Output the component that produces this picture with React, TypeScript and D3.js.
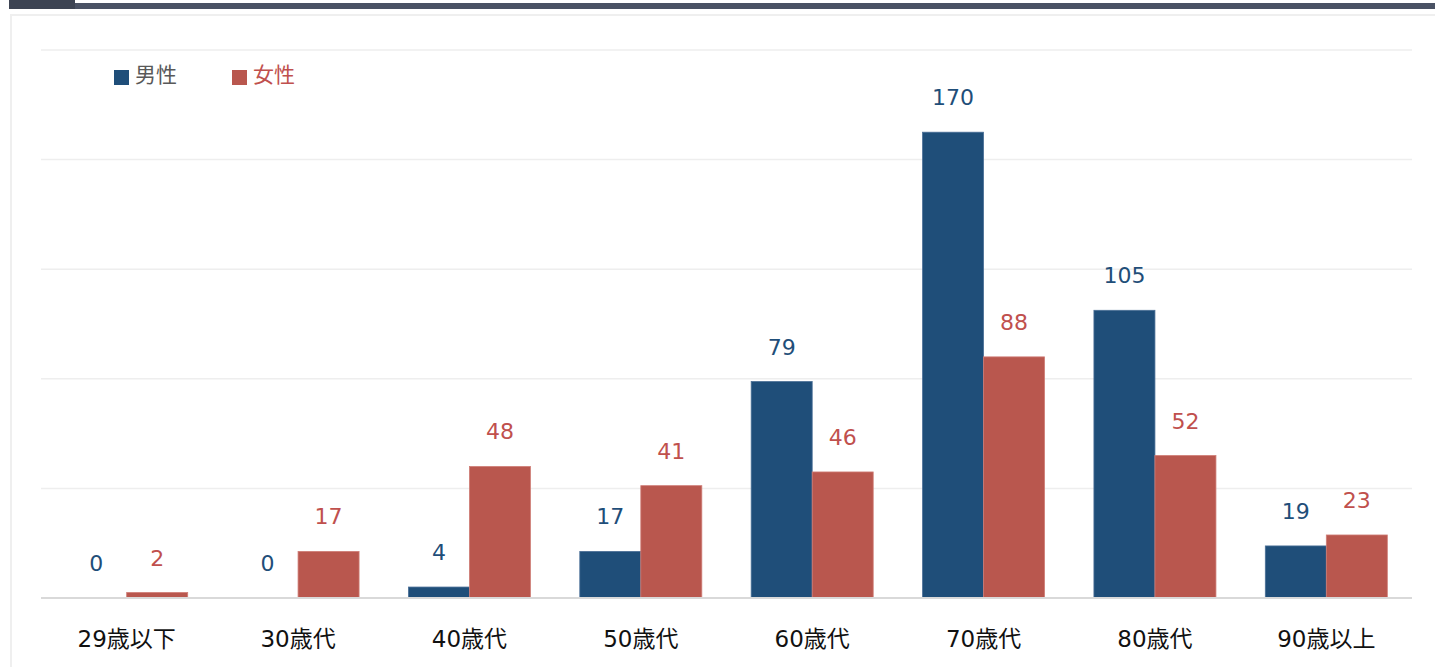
import React from "react";
import * as d3 from "d3";

const categories = ["29歳以下", "30歳代", "40歳代", "50歳代", "60歳代", "70歳代", "80歳代", "90歳以上"];
const maleValues = [0, 0, 4, 17, 79, 170, 105, 19];
const femaleValues = [2, 17, 48, 41, 46, 88, 52, 23];
const seriesNames = ["男性", "女性"];
const yTicks = [0, 40, 80, 120, 160, 200];

const W = 1435;
const H = 667;
const left = 41;
const right = 1412;
const top = 50;
const bottom = 598;
const maleColor = "#1f4e79";
const femaleColor = "#b9574e";
const font = "'DejaVu Sans', 'Noto Sans CJK JP', sans-serif";

export default function App() {
  const x0 = d3.scaleBand<string>().domain(categories).range([left, right]);
  const y = d3.scaleLinear().domain([0, 200]).range([bottom, top]);
  const inner = d3.scaleBand<string>().domain(seriesNames).range([0, x0.bandwidth() * 0.712]);
  const groupStart = (c: string) => x0(c)! + x0.bandwidth() * 0.144;
  const series = [
    { name: seriesNames[0], values: maleValues, color: maleColor, stroke: "#4a6f96", text: "#1f4e79" },
    { name: seriesNames[1], values: femaleValues, color: femaleColor, stroke: "#cf7d76", text: "#c0504d" },
  ];
  return (
    <svg width={W} height={H} style={{ position: "absolute", left: 0, top: 0, background: "#fff" }}>
      <rect x={9} y={0} width={66} height={9} fill="#3d4453" />
      <rect x={75} y={3} width={W - 75} height={6} fill="#4a5264" />
      <rect x={11} y={15} width={W} height={H} fill="none" stroke="#efefef" strokeWidth={2} />
      {yTicks.slice(1).map((t) => (
        <line key={t} x1={left} x2={right} y1={y(t)} y2={y(t)} stroke="#eeeeee" strokeWidth={1.5} />
      ))}
      {categories.map((c, i) => (
        <g key={c}>
          {series.map((s) => {
            const bx = groupStart(c) + inner(s.name)!;
            const v = s.values[i];
            return (
              <g key={s.name}>
                {v > 0 && (
                  <rect x={bx} y={y(v)} width={inner.bandwidth()} height={bottom - y(v)} fill={s.color} stroke={s.stroke} strokeWidth={0.8} />
                )}
                <text x={bx + inner.bandwidth() / 2} y={y(v) - 27} textAnchor="middle" fontFamily={font} fontSize={22} fill={s.text}>
                  {v}
                </text>
              </g>
            );
          })}
          <text x={x0(c)! + x0.bandwidth() / 2} y={647} textAnchor="middle" fontFamily={font} fontSize={23} fill="#111">
            {c}
          </text>
        </g>
      ))}
      <line x1={left} x2={right} y1={bottom} y2={bottom} stroke="#d9d9d9" strokeWidth={2} />
      <rect x={114} y={70} width={15} height={15} fill={maleColor} />
      <text x={135} y={82} fontFamily={font} fontSize={21} fill="#595959">{seriesNames[0]}</text>
      <rect x={232} y={70} width={15} height={15} fill={femaleColor} />
      <text x={253} y={82} fontFamily={font} fontSize={21} fill="#c0504d">{seriesNames[1]}</text>
    </svg>
  );
}
